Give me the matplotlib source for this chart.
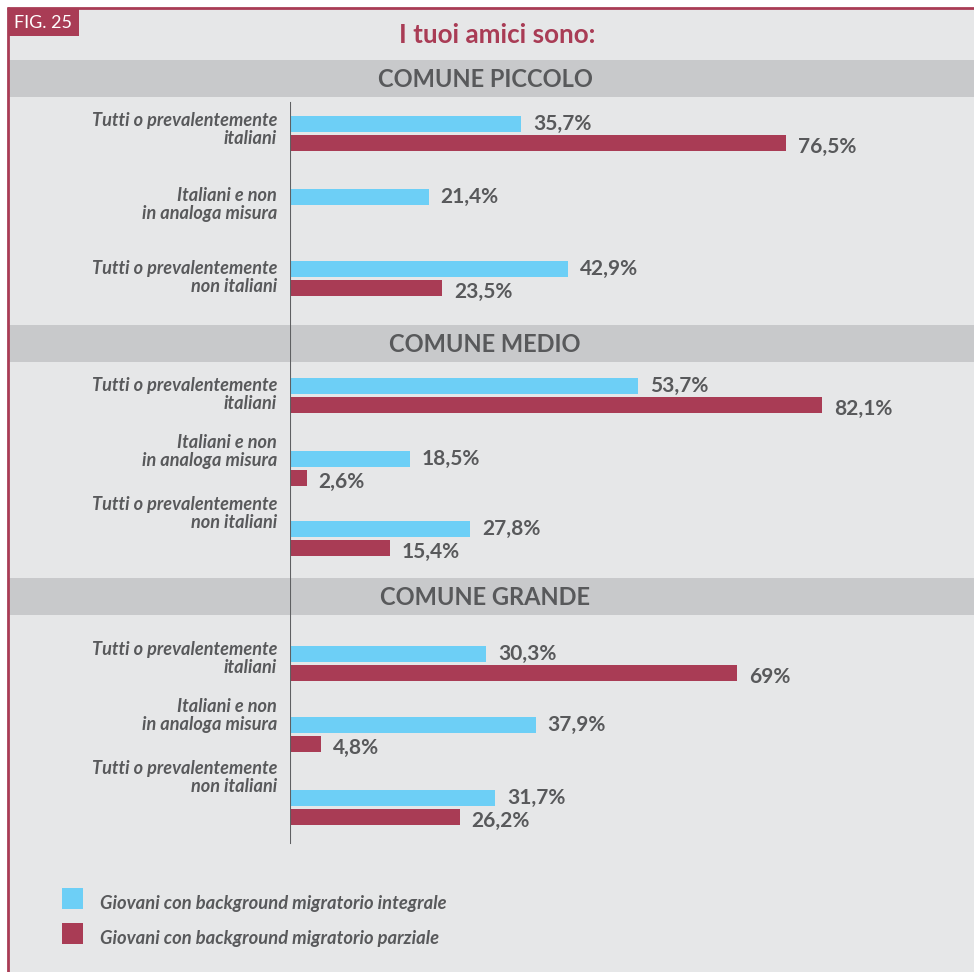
import matplotlib
matplotlib.use("Agg")
import matplotlib.pyplot as plt
from matplotlib.patches import Rectangle

plt.rcParams['font.family'] = ['Lato', 'DejaVu Sans']

# ---------------- data ----------------
title = "I tuoi amici sono:"
fig_label = "FIG. 25"
sections = ["COMUNE PICCOLO", "COMUNE MEDIO", "COMUNE GRANDE"]
categories = ["Tutti o prevalentemente\nitaliani",
              "Italiani e non\nin analoga misura",
              "Tutti o prevalentemente\nnon italiani"]
series_names = ["Giovani con background migratorio integrale",
                "Giovani con background migratorio parziale"]
integrale_piccolo = [35.7, 21.4, 42.9]
integrale_medio = [53.7, 18.5, 27.8]
integrale_grande = [30.3, 37.9, 31.7]
parziale_piccolo = [76.5, None, 23.5]
parziale_medio = [82.1, 2.6, 15.4]
parziale_grande = [69.0, 4.8, 26.2]
integrale = [integrale_piccolo, integrale_medio, integrale_grande]
parziale = [parziale_piccolo, parziale_medio, parziale_grande]

# ---------------- style / layout ----------------
W, H = 974, 972
BLUE = "#6dcff6"
RED = "#a93c55"
BG = "#e6e7e8"
BAND = "#c8c9cb"
TXT = "#58595b"
AXC = "#5f6062"

band_tops = [60, 325, 578]
band_h = 37
blue_y = [[124, 197, 269], [386, 459, 529], [654, 725, 798]]
pair_gap = 19
label_y = [[129, 204, 277], [394, 451, 513], [658, 715, 777]]
bar_h = 16
x0 = 290          # pixel of 0 %
px_per_pct = 6.48


def fmt(v):
    if float(v).is_integer():
        return f"{int(v)}%"
    return f"{v:.1f}".replace(".", ",") + "%"


fig = plt.figure(figsize=(W / 100, H / 100), dpi=100, facecolor="white")

bg = fig.add_axes([0, 0, 1, 1], zorder=0)
bg.set_xlim(0, W)
bg.set_ylim(H, 0)
bg.axis("off")

# background + border
bg.add_patch(Rectangle((8, 8), W, H, facecolor=BG, edgecolor="none"))
bg.plot([7, W], [8, 8], color=RED, lw=2.0, solid_capstyle="butt")
bg.plot([8, 8], [7, H], color=RED, lw=2.0, solid_capstyle="butt")

# FIG label
bg.add_patch(Rectangle((8, 8), 71, 28.5, facecolor=RED, edgecolor="none"))
bg.text(43, 28, fig_label, color="white", fontsize=13, ha="center", va="baseline")

# title
bg.text(497, 43, title, color=RED, fontsize=18.7, fontweight="bold",
        ha="center", va="baseline")

# bands
for top, name in zip(band_tops, sections):
    bg.add_patch(Rectangle((8, top), W, band_h, facecolor=BAND, edgecolor="none"))
    bg.text(485, top + band_h / 2 + 8.5, name, color=TXT, fontsize=17,
            fontweight="bold", ha="center", va="baseline")

# category labels
for s in range(3):
    for c, cat in enumerate(categories):
        lines = cat.split("\n")
        yc = label_y[s][c]
        for i, line in enumerate(lines):
            yb = yc + (i - (len(lines) - 1) / 2) * 18.5 + 6
            bg.text(277, yb, line, color=TXT, fontsize=13.1, fontweight="bold",
                    fontstyle="italic", ha="right", va="baseline")

# legend
for i, (name, col) in enumerate(zip(series_names, [BLUE, RED])):
    top = 888 + i * 35
    bg.add_patch(Rectangle((62, top), 21, 21, facecolor=col, edgecolor="none"))
    bg.text(100, top + 21, name, color=TXT, fontsize=13.2, fontweight="bold",
            fontstyle="italic", ha="left", va="baseline")

# bars axes
ax = fig.add_axes([x0 / W, 0, (px_per_pct * 100) / W, 1], zorder=1)
ax.set_xlim(0, 100)
ax.set_ylim(H, 0)
ax.axis("off")
ax.patch.set_alpha(0)

ax.plot([0, 0], [103, 843], color=AXC, lw=1.5, zorder=3)

for s in range(3):
    for c in range(3):
        yb = blue_y[s][c]
        yr = yb + pair_gap
        for v, y, col, off in ((integrale[s][c], yb, BLUE, 6), (parziale[s][c], yr, RED, 10)):
            if v is None:
                continue
            ax.barh(y, v, height=bar_h, color=col, edgecolor="none", zorder=2)
            ax.annotate(fmt(v), xy=(v, y + off), xytext=(8.5, 0),
                        textcoords="offset points", color=TXT, fontsize=15,
                        fontweight="bold", ha="left", va="baseline")

fig.savefig("out.png", dpi=100, facecolor="white")
